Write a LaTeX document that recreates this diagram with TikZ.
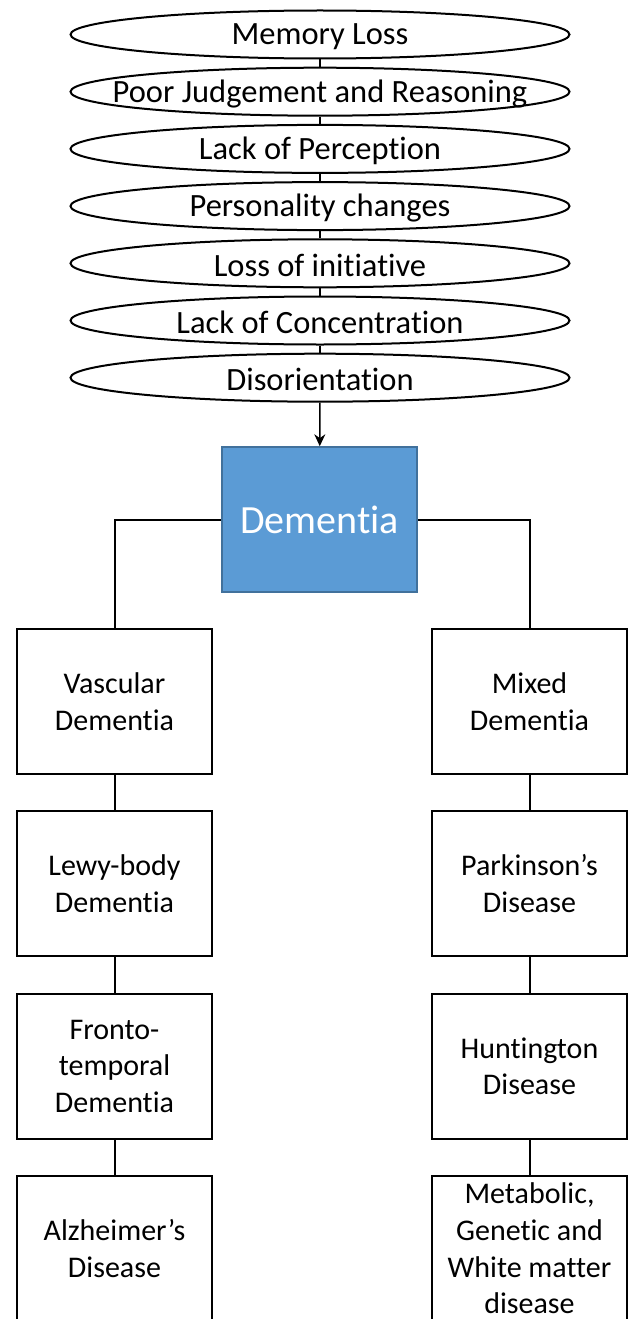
\documentclass[tikz,border=0pt]{standalone}
\usepackage{fontspec}
\setmainfont{Carlito}[Ligatures={NoCommon,NoContextual}]
\usetikzlibrary{shapes.geometric,arrows.meta}
\definecolor{demblue}{HTML}{5B9BD5}
\definecolor{demedge}{HTML}{41719C}
\begin{document}
\begin{tikzpicture}[x=1pt,y=-1pt,
  sym/.style={ellipse, draw, line width=2pt, minimum width=499pt, minimum height=48pt, inner sep=0pt},
  symtext/.style={inner sep=0pt, yshift=-2pt, font=\fontsize{32.5}{39}\selectfont},
  typebox/.style={rectangle, draw, line width=2pt, minimum width=195pt, minimum height=145pt, align=center, inner sep=0pt, font=\fontsize{30}{36.6}\selectfont},
  mainbox/.style={rectangle, fill=demblue, draw=demedge, line width=1.5pt, minimum width=195pt, minimum height=145pt, text=white, inner sep=0pt, font=\fontsize{40}{48}\selectfont},
  link/.style={line width=2pt},
]
\useasboundingbox (0,0) rectangle (631,1319);
\clip (0,0) rectangle (631,1319);

\node[sym, label={[symtext]center:Memory Loss}] (s1) at (320,34.5) {};
\node[sym, label={[symtext]center:Poor Judgement and Reasoning}] (s2) at (320,91.7) {};
\node[sym, label={[symtext]center:Lack of Perception}] (s3) at (320,148.9) {};
\node[sym, label={[symtext]center:Personality changes}] (s4) at (320,206.1) {};
\node[sym, label={[symtext]center:Loss of initiative}] (s5) at (320,263.3) {};
\node[sym, label={[symtext]center:Lack of Concentration}] (s6) at (320,320.5) {};
\node[sym, label={[symtext]center:Disorientation}] (s7) at (320,377.7) {};

\draw[link] (s1) -- (s2);
\draw[link] (s2) -- (s3);
\draw[link] (s3) -- (s4);
\draw[link] (s4) -- (s5);
\draw[link] (s5) -- (s6);
\draw[link] (s6) -- (s7);

\node[mainbox] (dem) at (319.5,519.5) {Dementia};
\draw[line width=1.5pt,-{Stealth[length=12pt,width=11pt]}] (s7) -- (dem);

\node[typebox] (l1) at (114.5,701.5) {Vascular\\Dementia};
\node[typebox] (l2) at (114.5,883.8) {Lewy-body\\Dementia};
\node[typebox] (l3) at (114.5,1066.1) {Fronto-\\temporal\\Dementia};
\node[typebox] (l4) at (114.5,1248.4) {Alzheimer’s\\Disease};

\node[typebox] (r1) at (529.5,701.5) {Mixed\\Dementia};
\node[typebox] (r2) at (529.5,883.8) {Parkinson’s\\Disease};
\node[typebox] (r3) at (529.5,1066.1) {Huntington\\Disease};
\node[typebox] (r4) at (529.5,1248.4) {Metabolic,\\Genetic and\\White matter\\disease};

\draw[link] (dem.west) -| (l1.north);
\draw[link] (dem.east) -| (r1.north);
\draw[link] (l1) -- (l2);
\draw[link] (l2) -- (l3);
\draw[link] (l3) -- (l4);
\draw[link] (r1) -- (r2);
\draw[link] (r2) -- (r3);
\draw[link] (r3) -- (r4);
\end{tikzpicture}
\end{document}
